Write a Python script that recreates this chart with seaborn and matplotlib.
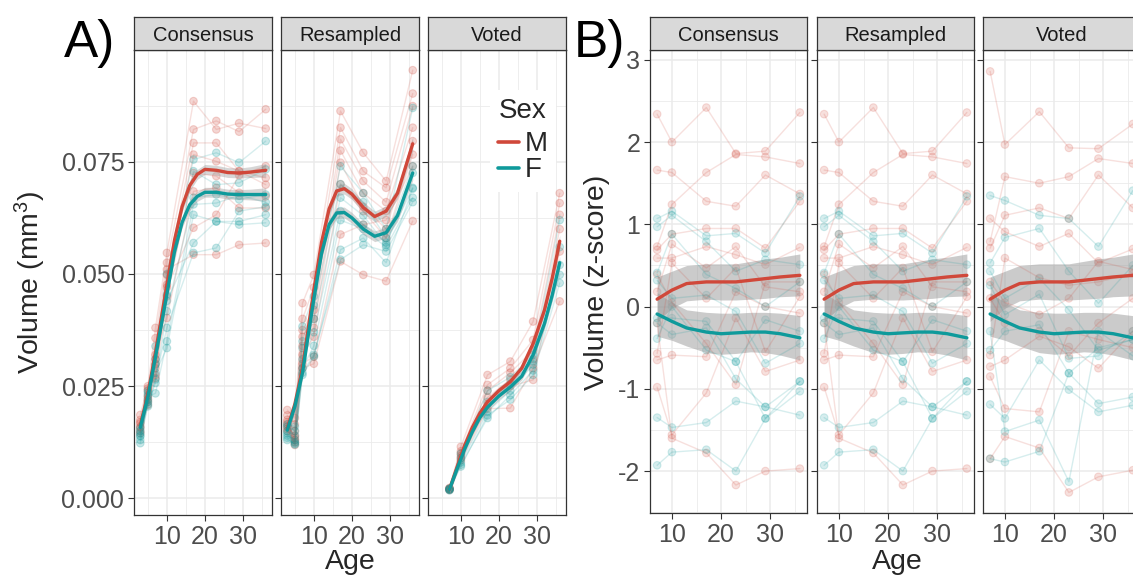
import matplotlib
matplotlib.use("Agg")
import matplotlib.pyplot as plt
from matplotlib.lines import Line2D
from matplotlib.ticker import MultipleLocator, FuncFormatter
import pandas as pd
import seaborn as sns


# ---------------- data ----------------
FACETS = ["Consensus", "Resampled", "Voted"]

# panel A: raw volumes (mm^3), one list per subject
a_ages = [3, 5, 7, 10, 17, 23, 29, 36]
voted_ages = [7, 10, 17, 23, 29, 36]

cons_vol_m = [
    [0.0186, 0.0250, 0.0380, 0.0547, 0.0885, 0.0822, 0.0836, 0.0824],
    [0.0167, 0.0215, 0.0357, 0.0525, 0.0822, 0.0841, 0.0817, 0.0867],
    [0.0175, 0.0230, 0.0300, 0.0498, 0.0792, 0.0792, 0.0729, 0.0714],
    [0.0160, 0.0240, 0.0275, 0.0476, 0.0766, 0.0751, 0.0729, 0.0699],
    [0.0150, 0.0220, 0.0268, 0.0450, 0.0725, 0.0718, 0.0681, 0.0673],
    [0.0170, 0.0245, 0.0320, 0.0402, 0.0684, 0.0692, 0.0647, 0.0647],
    [0.0158, 0.0208, 0.0290, 0.0470, 0.0603, 0.0632, 0.0720, 0.0740],
    [0.0145, 0.0225, 0.0310, 0.0510, 0.0543, 0.0543, 0.0565, 0.0569],
]
cons_vol_f = [
    [0.0156, 0.0235, 0.0339, 0.0500, 0.0755, 0.0770, 0.0748, 0.0796],
    [0.0138, 0.0215, 0.0298, 0.0454, 0.0729, 0.0699, 0.0703, 0.0733],
    [0.0123, 0.0210, 0.0257, 0.0417, 0.0670, 0.0677, 0.0666, 0.0677],
    [0.0150, 0.0228, 0.0234, 0.0350, 0.0655, 0.0658, 0.0675, 0.0660],
    [0.0145, 0.0240, 0.0280, 0.0335, 0.0632, 0.0617, 0.0617, 0.0632],
    [0.0130, 0.0220, 0.0310, 0.0440, 0.0569, 0.0617, 0.0610, 0.0614],
    [0.0140, 0.0205, 0.0265, 0.0380, 0.0547, 0.0558, 0.0640, 0.0650],
]
res_vol_m = [
    [0.0197, 0.0179, 0.0435, 0.0498, 0.0863, 0.0770, 0.0707, 0.0954],
    [0.0185, 0.0165, 0.0400, 0.0470, 0.0826, 0.0729, 0.0692, 0.0902],
    [0.0170, 0.0150, 0.0375, 0.0420, 0.0800, 0.0707, 0.0660, 0.0874],
    [0.0160, 0.0140, 0.0360, 0.0400, 0.0775, 0.0680, 0.0640, 0.0826],
    [0.0175, 0.0130, 0.0340, 0.0380, 0.0748, 0.0650, 0.0600, 0.0796],
    [0.0165, 0.0125, 0.0320, 0.0360, 0.0700, 0.0640, 0.0580, 0.0766],
    [0.0150, 0.0135, 0.0300, 0.0316, 0.0588, 0.0610, 0.0620, 0.0740],
    [0.0155, 0.0119, 0.0290, 0.0300, 0.0528, 0.0498, 0.0484, 0.0618],
]
res_vol_f = [
    [0.0165, 0.0160, 0.0383, 0.0450, 0.0740, 0.0680, 0.0600, 0.0870],
    [0.0160, 0.0150, 0.0350, 0.0430, 0.0700, 0.0660, 0.0580, 0.0740],
    [0.0150, 0.0140, 0.0335, 0.0400, 0.0670, 0.0630, 0.0565, 0.0725],
    [0.0140, 0.0130, 0.0310, 0.0370, 0.0640, 0.0610, 0.0570, 0.0692],
    [0.0145, 0.0125, 0.0290, 0.0340, 0.0620, 0.0600, 0.0560, 0.0670],
    [0.0135, 0.0120, 0.0275, 0.0316, 0.0554, 0.0580, 0.0525, 0.0690],
    [0.0130, 0.0122, 0.0280, 0.0320, 0.0532, 0.0565, 0.0550, 0.0660],
]
vot_vol_m = [
    [0.0022, 0.0115, 0.0275, 0.0305, 0.0394, 0.0680],
    [0.0020, 0.0105, 0.0253, 0.0290, 0.0353, 0.0658],
    [0.0021, 0.0100, 0.0240, 0.0280, 0.0330, 0.0632],
    [0.0019, 0.0095, 0.0225, 0.0265, 0.0310, 0.0600],
    [0.0023, 0.0090, 0.0210, 0.0250, 0.0264, 0.0550],
    [0.0020, 0.0085, 0.0200, 0.0201, 0.0290, 0.0439],
]
vot_vol_f = [
    [0.0021, 0.0100, 0.0240, 0.0270, 0.0320, 0.0620],
    [0.0020, 0.0090, 0.0215, 0.0255, 0.0305, 0.0560],
    [0.0019, 0.0080, 0.0193, 0.0240, 0.0298, 0.0520],
    [0.0018, 0.0075, 0.0179, 0.0230, 0.0285, 0.0498],
    [0.0022, 0.0071, 0.0185, 0.0220, 0.0275, 0.0480],
]

# panel A: smooth fits and band half-width
fit_ages_a = [3, 5, 7, 10, 12, 14, 16, 18, 20, 23, 26, 29, 32, 36]
cons_fit_m = [0.0162, 0.0232, 0.0325, 0.0475, 0.0575, 0.0650, 0.0697, 0.0722, 0.0733, 0.0731,
              0.0726, 0.0725, 0.0727, 0.0731]
cons_fit_f = [0.0158, 0.0226, 0.0315, 0.0455, 0.0550, 0.0615, 0.0654, 0.0673, 0.0682, 0.0682,
              0.0678, 0.0677, 0.0677, 0.0677]
cons_se = [0.0016, 0.0012, 0.0012, 0.0012, 0.0012, 0.0012, 0.0012, 0.0011, 0.0011, 0.0011,
           0.0011, 0.0011, 0.0012, 0.0015]
res_fit_m = [0.0155, 0.0210, 0.0290, 0.0465, 0.0570, 0.0645, 0.0685, 0.0690, 0.0678, 0.0648,
             0.0628, 0.0640, 0.0680, 0.0790]
res_fit_f = [0.0152, 0.0205, 0.0280, 0.0445, 0.0545, 0.0610, 0.0636, 0.0637, 0.0625, 0.0600,
             0.0584, 0.0592, 0.0630, 0.0725]
res_se = [0.0016, 0.0013, 0.0013, 0.0013, 0.0012, 0.0012, 0.0012, 0.0012, 0.0012, 0.0012,
          0.0012, 0.0012, 0.0013, 0.0016]
fit_ages_v = [7, 9, 11, 13, 15, 17, 20, 23, 26, 29, 32, 34, 36]
vot_fit_m = [0.0020, 0.0070, 0.0118, 0.0158, 0.0190, 0.0215, 0.0240, 0.0260, 0.0290, 0.0345,
             0.0420, 0.0490, 0.0573]
vot_fit_f = [0.0020, 0.0066, 0.0110, 0.0148, 0.0180, 0.0203, 0.0228, 0.0248, 0.0272, 0.0320,
             0.0390, 0.0452, 0.0525]
vot_se = [0.0010, 0.0009, 0.0008, 0.0008, 0.0008, 0.0008, 0.0008, 0.0008, 0.0008, 0.0009,
          0.0010, 0.0011, 0.0014]

# panel B: z-scores per subject (Consensus and Resampled read the same)
b_ages = [7, 10, 17, 23, 29, 36]
cons_z_m = [
    [2.34, 2.00, 2.42, 1.86, 1.89, 2.36],
    [1.66, 1.63, 1.28, 1.22, 1.60, 1.37],
    [0.73, 1.24, 1.63, 1.85, 1.82, 1.74],
    [0.69, 0.88, 0.95, 0.95, 0.71, 1.28],
    [0.59, 0.59, 0.73, 0.63, 0.51, 0.72],
    [0.18, 0.76, 0.47, 0.73, 0.24, 0.18],
    [-0.57, 0.53, 0.10, 0.47, -0.55, 0.12],
    [-0.65, -0.59, -0.61, 0.18, 0.00, -0.08],
    [-0.98, -1.56, -1.05, -0.14, -0.79, -0.65],
    [-0.20, -1.60, -1.78, -2.17, -2.00, -1.97],
    [0.39, 0.05, -0.45, -0.95, 0.30, 0.30],
]
cons_z_f = [
    [1.07, 1.16, 0.86, 0.89, 0.65, 1.34],
    [0.97, 1.11, 0.79, 0.43, 0.57, 0.51],
    [0.41, 0.88, 0.39, 0.22, 0.00, 0.30],
    [0.32, 0.10, 0.14, -0.06, -0.69, -0.45],
    [-0.14, -0.14, -0.18, -0.67, -0.16, -0.30],
    [-0.20, -0.34, -0.26, -0.88, -1.22, -0.91],
    [-0.39, 0.00, -0.53, -0.67, -1.36, -1.03],
    [-1.35, -1.47, -1.41, -1.15, -1.22, -1.32],
    [-1.93, -1.77, -1.74, -2.00, -1.36, -0.91],
]
vot_z_m = [
    [2.86, 1.97, 2.37, 1.93, 1.92, 2.22],
    [0.79, 1.58, 1.50, 1.58, 1.80, 1.74],
    [0.71, 1.11, 1.20, 1.07, 1.60, 1.20],
    [1.07, 0.91, 0.73, 0.89, 0.53, 0.70],
    [-0.59, 0.59, 0.35, 0.26, 0.30, 0.40],
    [-0.73, -0.65, -0.36, -0.49, -0.75, -0.30],
    [-0.85, -1.24, -1.28, -0.30, -0.40, -0.50],
    [-1.85, -1.58, -1.72, -2.26, -2.07, -1.99],
    [0.30, 0.05, -0.10, 0.10, 0.55, 0.45],
    [0.10, -0.20, -0.30, -0.60, -0.20, 0.10],
]
vot_z_f = [
    [1.35, 1.29, 1.11, 1.07, 0.73, 1.41],
    [0.53, 0.84, 0.95, 0.43, 0.04, 0.50],
    [0.43, 0.10, 0.34, -0.04, -0.53, -0.40],
    [0.26, -0.10, 0.15, -0.63, -0.60, -0.30],
    [-0.53, -0.30, -0.22, -0.81, -1.18, -1.10],
    [-1.19, -1.36, -0.65, -1.01, -1.28, -1.20],
    [-0.30, -1.52, -1.38, -2.13, -0.30, -0.60],
    [-1.85, -1.89, -1.76, -0.81, -0.50, -0.40],
]

# panel B: smooth fits and 95% band (same in all three facets)
fit_ages_b = [7, 10, 13, 17, 20, 23, 26, 29, 32, 36]
b_fit_m = [0.09, 0.20, 0.28, 0.30, 0.30, 0.30, 0.32, 0.34, 0.36, 0.38]
b_lo_m = [-0.18, -0.02, 0.07, 0.09, 0.08, 0.08, 0.09, 0.10, 0.12, 0.13]
b_hi_m = [0.36, 0.43, 0.50, 0.52, 0.52, 0.52, 0.55, 0.58, 0.60, 0.64]
b_fit_f = [-0.09, -0.18, -0.26, -0.31, -0.33, -0.32, -0.31, -0.31, -0.33, -0.38]
b_lo_f = [-0.36, -0.41, -0.48, -0.56, -0.58, -0.57, -0.55, -0.56, -0.59, -0.65]
b_hi_f = [0.17, 0.05, -0.04, -0.07, -0.08, -0.08, -0.07, -0.07, -0.08, -0.11]


# ---------------- style ----------------
M_COL = "#D0483A"
F_COL = "#0F9A9B"
PAL = {"M": M_COL, "F": F_COL}

sns.set_theme(style="white")
plt.rcParams["font.family"] = ["Liberation Sans", "DejaVu Sans"]
plt.rcParams["axes.unicode_minus"] = False
plt.rcParams["mathtext.fontset"] = "custom"
plt.rcParams["mathtext.rm"] = "Liberation Sans"
plt.rcParams["mathtext.it"] = "Liberation Sans:italic"
plt.rcParams["mathtext.default"] = "regular"

W, H = 1133, 577


def rect(x0, y0, x1, y1):
    return [x0 / W, 1 - y1 / H, (x1 - x0) / W, (y1 - y0) / H]


def long_table(ages, males, females):
    rows = []
    for sex, group in (("M", males), ("F", females)):
        for i, vals in enumerate(group):
            for age, v in zip(ages, vals):
                rows.append((f"{sex}{i}", sex, age, v))
    return pd.DataFrame(rows, columns=["subject", "Sex", "Age", "value"])


def fit_table(ages, fm, ff, lo_m, hi_m, lo_f, hi_f):
    dm = pd.DataFrame({"Age": ages, "fit": fm, "lo": lo_m, "hi": hi_m, "Sex": "M"})
    df = pd.DataFrame({"Age": ages, "fit": ff, "lo": lo_f, "hi": hi_f, "Sex": "F"})
    return pd.concat([dm, df], ignore_index=True)


def draw_facet(fig, box, title, obs, fit, xlim, ylim, ymaj, ymin, yfmt, show_y,
               pt_alpha=0.22, band_alpha=0.4):
    x0, x1, top, bottom = box
    ax = fig.add_axes(rect(x0, top, x1, bottom))
    sns.lineplot(data=obs, x="Age", y="value", hue="Sex", units="subject", estimator=None,
                 palette=PAL, alpha=0.17, lw=1.0, legend=False, ax=ax)
    sns.scatterplot(data=obs, x="Age", y="value", hue="Sex", palette=PAL, alpha=pt_alpha,
                    s=30, edgecolor="face", linewidth=0.8, legend=False, ax=ax)
    for sex in ("M", "F"):
        part = fit[fit["Sex"] == sex]
        ax.fill_between(part["Age"], part["lo"], part["hi"], color="#999999",
                        alpha=band_alpha, lw=0)
    sns.lineplot(data=fit, x="Age", y="fit", hue="Sex", palette=PAL, lw=2.4,
                 legend=False, ax=ax)

    ax.set_xlim(*xlim)
    ax.set_ylim(*ylim)
    ax.xaxis.set_major_locator(MultipleLocator(10))
    ax.xaxis.set_minor_locator(MultipleLocator(5))
    ax.yaxis.set_major_locator(MultipleLocator(ymaj))
    ax.yaxis.set_minor_locator(MultipleLocator(ymin))
    ax.yaxis.set_major_formatter(FuncFormatter(yfmt))
    ax.xaxis.set_major_formatter(FuncFormatter(lambda v, p: f"{v:.0f}"))
    ax.grid(which="major", color="#EBEBEB", lw=1.1)
    ax.grid(which="minor", color="#EBEBEB", lw=0.6)
    ax.set_axisbelow(True)
    for sp in ax.spines.values():
        sp.set_visible(True)
        sp.set_color("#333333")
        sp.set_linewidth(0.9)
    ax.tick_params(which="major", length=4.5, width=0.8, color="#333333", labelsize=18,
                   labelcolor="#4D4D4D", pad=2.5, bottom=True, left=True)
    ax.tick_params(which="minor", length=0)
    if not show_y:
        ax.tick_params(axis="y", labelleft=False)
    ax.set_xlabel("")
    ax.set_ylabel("")

    sax = fig.add_axes(rect(x0, 17, x1, top))
    sax.set_facecolor("#D9D9D9")
    sax.set_xticks([])
    sax.set_yticks([])
    for sp in sax.spines.values():
        sp.set_visible(True)
        sp.set_color("#333333")
        sp.set_linewidth(0.9)
    sax.text(0.5, 0.45, title, ha="center", va="center", fontsize=14.5, color="#1A1A1A",
             transform=sax.transAxes)
    return ax


fig = plt.figure(figsize=(W / 100, H / 100), dpi=100)

# panel A
a_obs = [long_table(a_ages, cons_vol_m, cons_vol_f),
         long_table(a_ages, res_vol_m, res_vol_f),
         long_table(voted_ages, vot_vol_m, vot_vol_f)]


def pm(fit, se, sign):
    return [f + sign * s for f, s in zip(fit, se)]


a_fit = [
    fit_table(fit_ages_a, cons_fit_m, cons_fit_f, pm(cons_fit_m, cons_se, -1),
              pm(cons_fit_m, cons_se, 1), pm(cons_fit_f, cons_se, -1), pm(cons_fit_f, cons_se, 1)),
    fit_table(fit_ages_a, res_fit_m, res_fit_f, pm(res_fit_m, res_se, -1),
              pm(res_fit_m, res_se, 1), pm(res_fit_f, res_se, -1), pm(res_fit_f, res_se, 1)),
    fit_table(fit_ages_v, vot_fit_m, vot_fit_f, pm(vot_fit_m, vot_se, -1),
              pm(vot_fit_m, vot_se, 1), pm(vot_fit_f, vot_se, -1), pm(vot_fit_f, vot_se, 1)),
]
a_left = [134, 281, 428]
a_axes = []
for i, name in enumerate(FACETS):
    a_axes.append(draw_facet(fig, (a_left[i], a_left[i] + 138, 50, 515), name, a_obs[i], a_fit[i],
                             (1.35, 37.65), (-0.0037, 0.0999), 0.025, 0.0125,
                             lambda v, p: f"{v:.3f}", i == 0))

# panel B
b_obs = [long_table(b_ages, cons_z_m, cons_z_f),
         long_table(b_ages, cons_z_m, cons_z_f),
         long_table(b_ages, vot_z_m, vot_z_f)]
b_fit = fit_table(fit_ages_b, b_fit_m, b_fit_f, b_lo_m, b_hi_m, b_lo_f, b_hi_f)
b_left = [650, 817, 983]
for i, name in enumerate(FACETS):
    draw_facet(fig, (b_left[i], b_left[i] + 157, 50, 513), name, b_obs[i], b_fit,
               (5.55, 37.45), (-2.51, 3.12), 1, 0.5, lambda v, p: f"{v:.0f}", i == 0,
               pt_alpha=0.17, band_alpha=0.5)

# legend inside the Voted facet of panel A
handles = [Line2D([0], [0], color=M_COL, lw=2.6), Line2D([0], [0], color=F_COL, lw=2.6)]
leg = a_axes[2].legend(handles, ["M", "F"], title="Sex", loc="upper left",
                       bbox_to_anchor=(490 / W, 1 - 90 / H), bbox_transform=fig.transFigure,
                       frameon=True, facecolor="white", edgecolor="none", framealpha=1,
                       fontsize=20, title_fontsize=20, handlelength=0.75, handletextpad=0.2,
                       labelspacing=0.0, borderpad=0.3, borderaxespad=0, alignment="left")
leg._legend_box.sep = 5

# labels
fig.text(64 / W, 1 - 57 / H, "A)", fontsize=37, ha="left", va="baseline", color="black")
fig.text(574 / W, 1 - 57 / H, "B)", fontsize=37, ha="left", va="baseline", color="black")
fig.text(30 / W, 1 - 282 / H, "Volume (mm$^3$)", rotation=90, fontsize=20.5, ha="center",
         va="center")
fig.text(597 / W, 1 - 282 / H, "Volume (z-score)", rotation=90, fontsize=20.5, ha="center",
         va="center")
fig.text(350 / W, 1 - 562 / H, "Age", fontsize=20.5, ha="center", va="center")
fig.text(897 / W, 1 - 562 / H, "Age", fontsize=20.5, ha="center", va="center")

fig.savefig("out.png", dpi=100)
